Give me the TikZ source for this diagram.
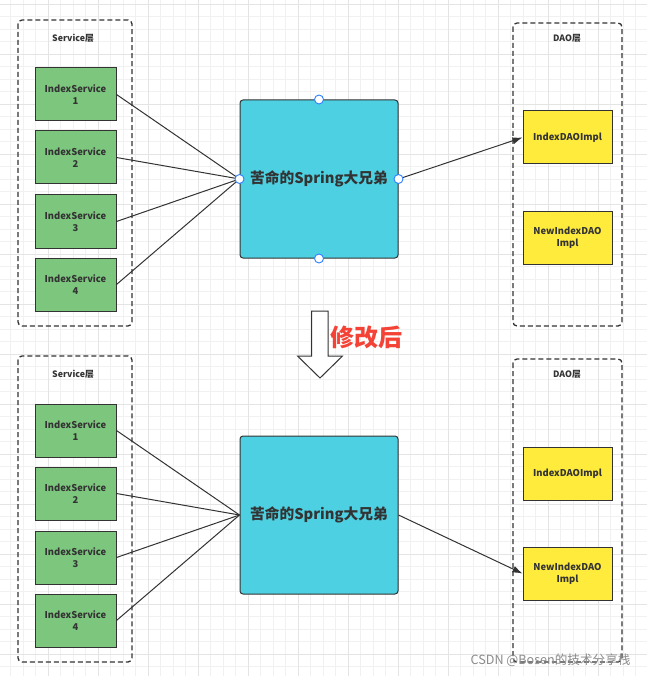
\documentclass[tikz,border=0pt]{standalone}
\usepackage{fontspec}
\setmainfont{Noto Sans CJK SC}
\usetikzlibrary{arrows.meta}
\definecolor{gridl}{HTML}{F1F1F1}
\definecolor{gridd}{HTML}{E4E4E4}
\definecolor{ink}{HTML}{333333}
\definecolor{svcgreen}{HTML}{7DC67E}
\definecolor{springcyan}{HTML}{4DD0E1}
\definecolor{daoyellow}{HTML}{FFEB3B}
\definecolor{redtxt}{HTML}{F44336}
\definecolor{handle}{HTML}{2F80FF}
\tikzset{
  container/.style={draw=ink, line width=1.3pt, dash pattern=on 5pt off 3pt, rounded corners=4pt},
  layerlabel/.style={font=\fontsize{8.8}{10}\selectfont\bfseries, text=ink},
  svcbox/.style={draw=ink, line width=1pt, fill=svcgreen, minimum width=81pt, minimum height=53pt, inner sep=0pt, align=center, font=\fontsize{9.4}{11.5}\selectfont\bfseries, text=ink},
  daobox/.style={draw=ink, line width=1pt, fill=daoyellow, minimum width=89pt, minimum height=53pt, inner sep=0pt, align=center, font=\fontsize{9.4}{11.5}\selectfont\bfseries, text=ink},
  springbox/.style={draw=ink, line width=1pt, fill=springcyan, minimum width=158pt, minimum height=158pt, rounded corners=3pt, inner sep=0pt, font=\fontsize{14.7}{16}\selectfont\bfseries, text=ink},
  link/.style={draw=ink, line width=1pt},
  arrowlink/.style={draw=ink, line width=1pt, -{Latex[length=10pt,width=7pt]}},
  handledot/.style={circle, draw=handle, fill=white, line width=0.9pt, minimum size=9pt, inner sep=0pt},
}
\begin{document}
\begin{tikzpicture}[x=1pt,y=-1pt]
\useasboundingbox (0,0) rectangle (647,676);
\fill[white] (0,0) rectangle (647,676);
% grid
\foreach \i in {0,...,52} {
  \pgfmathsetmacro{\gx}{-1.7+12.5*\i}
  \draw[gridl, line width=0.8pt] (\gx,0) -- (\gx,676);
}
\foreach \i in {0,...,54} {
  \pgfmathsetmacro{\gy}{4+12.5*\i}
  \draw[gridl, line width=0.8pt] (0,\gy) -- (647,\gy);
}
\foreach \i in {0,...,13} {
  \pgfmathsetmacro{\gx}{-1.7+50*\i}
  \draw[gridd, line width=0.8pt] (\gx,0) -- (\gx,676);
}
\foreach \i in {0,...,13} {
  \pgfmathsetmacro{\gy}{4+50*\i}
  \draw[gridd, line width=0.8pt] (0,\gy) -- (647,\gy);
}

% ===== top section =====
\draw[container] (18,20) rectangle (132,326);
\node[layerlabel] (svclabA) at (73,38) {Service层};
\node[svcbox] (a1) at (75.5,94.5) {IndexService\\1};
\node[svcbox] (a2) at (75.5,157.5) {IndexService\\2};
\node[svcbox] (a3) at (75.5,221.5) {IndexService\\3};
\node[svcbox] (a4) at (75.5,284.5) {IndexService\\4};
\node[springbox] (sa) at (319,179) {苦命的Spring大兄弟};
\draw[container] (513,23) rectangle (622,326);
\node[layerlabel] (daolabA) at (567,38) {DAO层};
\node[daobox] (da1) at (567.5,137.5) {IndexDAOImpl};
\node[daobox] (da2) at (567.5,237.5) {NewIndexDAO\\Impl};
\foreach \s in {a1,a2,a3,a4} { \draw[link] (\s.east) -- (sa.west); }
\draw[arrowlink] (sa.east) -- (da1.west);
\node[handledot] (hn) at (sa.north) {};
\node[handledot] (hs) at (sa.south) {};
\node[handledot] (hw) at (sa.west) {};
\node[handledot] (he) at (sa.east) {};

% ===== transition arrow =====
\draw[draw=ink, fill=white, line width=1pt, line join=miter]
  (311.5,311) -- (328,311) -- (328,356) -- (342.5,356) -- (320,378) -- (297.5,356) -- (311.5,356) -- cycle;
\node[font=\fontsize{24}{26}\selectfont\bfseries, text=redtxt] (mod) at (366.5,337) {修改后};

% ===== bottom section =====
\draw[container] (18,356) rectangle (132,662);
\node[layerlabel] (svclabB) at (73,374) {Service层};
\node[svcbox] (b1) at (75.5,430.5) {IndexService\\1};
\node[svcbox] (b2) at (75.5,493.5) {IndexService\\2};
\node[svcbox] (b3) at (75.5,557.5) {IndexService\\3};
\node[svcbox] (b4) at (75.5,620.5) {IndexService\\4};
\node[springbox] (sb) at (319,515) {苦命的Spring大兄弟};
\draw[container] (513,359) rectangle (622,662);
\node[layerlabel] (daolabB) at (567,374) {DAO层};
\node[daobox] (db1) at (567.5,473.5) {IndexDAOImpl};
\node[daobox] (db2) at (567.5,573.5) {NewIndexDAO\\Impl};
\foreach \s in {b1,b2,b3,b4} { \draw[link] (\s.east) -- (sb.west); }
\draw[arrowlink] (sb.east) -- (db2.west);

% watermark
\node[font=\fontsize{12.6}{14}\selectfont, text=black!45, anchor=east] (wm) at (634,660) {CSDN @Bosen的技术分享栈};
\end{tikzpicture}
\end{document}
